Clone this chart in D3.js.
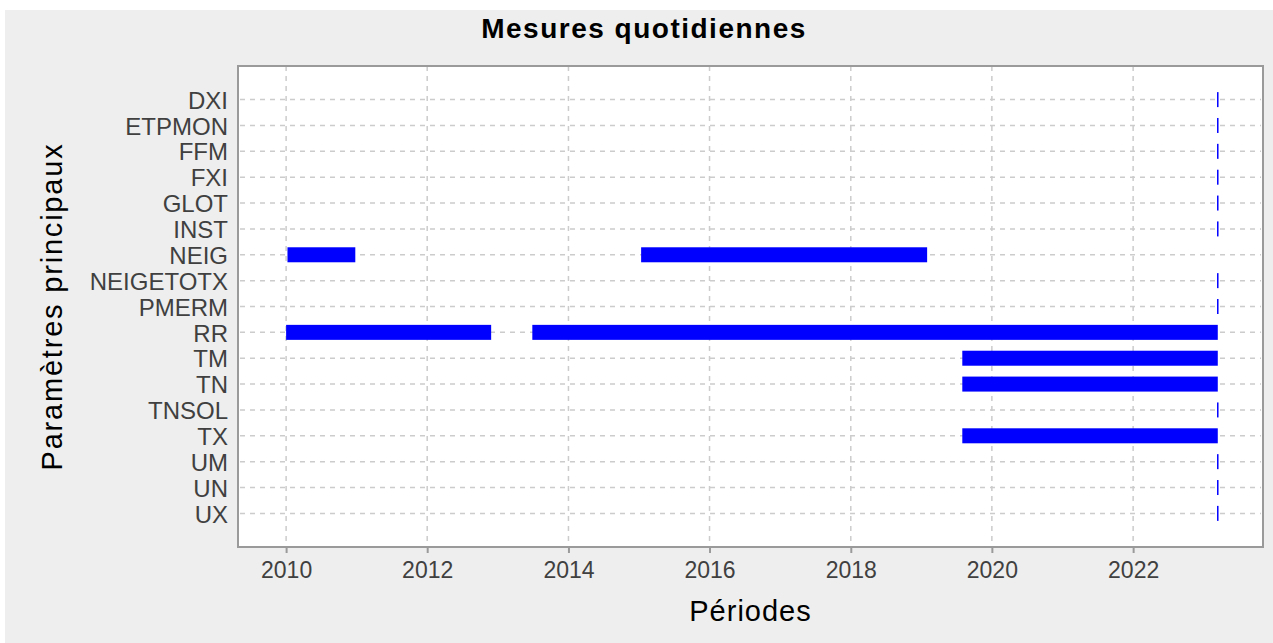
<!DOCTYPE html>
<meta charset="utf-8">
<head>
    <title>Mesures quotidiennes</title>
    <meta charset="utf-8" />
</head>
<style>
body {
    margin: 0;
    background: #fff;
}

text {
    font-family: 'Liberation Sans', Arial, sans-serif;
}

.grid line {
    stroke: #cccccc;
    stroke-width: 1.5;
    stroke-dasharray: 5,5;
}

.tick-label {
    fill: #404040;
}
</style>

<svg width="1273" height="643"></svg>
<script src="https://d3js.org/d3.v7.min.js"></script>
<script>

// parametres (de haut en bas)
const parametres = ['DXI', 'ETPMON', 'FFM', 'FXI', 'GLOT', 'INST', 'NEIG', 'NEIGETOTX',
    'PMERM', 'RR', 'TM', 'TN', 'TNSOL', 'TX', 'UM', 'UN', 'UX'];

// periodes de mesure : parametre, debut, fin
const periodeParam = ['DXI', 'ETPMON', 'FFM', 'FXI', 'GLOT', 'INST', 'NEIG', 'NEIG', 'NEIGETOTX',
    'PMERM', 'RR', 'RR', 'TM', 'TN', 'TNSOL', 'TX', 'UM', 'UN', 'UX'];
const periodeDebut = ['2023-03-15', '2023-03-15', '2023-03-15', '2023-03-15', '2023-03-15', '2023-03-15',
    '2010-01-08', '2015-01-12', '2023-03-15', '2023-03-15', '2010-01-01', '2013-06-28',
    '2019-08-01', '2019-08-01', '2023-03-15', '2019-08-01', '2023-03-15', '2023-03-15', '2023-03-15'];
const periodeFin = ['2023-03-15', '2023-03-15', '2023-03-15', '2023-03-15', '2023-03-15', '2023-03-15',
    '2010-12-25', '2019-01-31', '2023-03-15', '2023-03-15', '2012-11-27', '2023-03-15',
    '2023-03-15', '2023-03-15', '2023-03-15', '2023-03-15', '2023-03-15', '2023-03-15', '2023-03-15'];

const annees = [2010, 2012, 2014, 2016, 2018, 2020, 2022];

const svg = d3.select('svg'),
    width = +svg.attr('width'),
    height = +svg.attr('height');

const plot = {left: 238, right: 1263, top: 66, bottom: 547};
const parse = d3.timeParse('%Y-%m-%d');

const periodes = periodeParam.map((p, i) => ({
    param: p,
    debut: parse(periodeDebut[i]),
    fin: parse(periodeFin[i])
}));

const x = d3.scaleTime()
    .domain([parse('2009-04-27'), parse('2023-11-04')])
    .range([plot.left, plot.right]);

const y = d3.scalePoint()
    .domain(parametres)
    .range([plot.top, plot.bottom])
    .padding(1.3);

// fond
svg.append('rect')
    .attr('x', 5)
    .attr('y', 10)
    .attr('width', width - 5)
    .attr('height', height - 10)
    .attr('fill', '#eeeeee');

svg.append('rect')
    .attr('x', plot.left)
    .attr('y', plot.top)
    .attr('width', plot.right - plot.left)
    .attr('height', plot.bottom - plot.top)
    .attr('fill', '#fff');

const ticks = annees.map(a => new Date(a, 0, 1));

// grille
const grid = svg.append('g').attr('class', 'grid');

grid.selectAll('.vline')
    .data(ticks)
    .enter()
    .append('line')
    .attr('x1', d => x(d))
    .attr('x2', d => x(d))
    .attr('y1', plot.top)
    .attr('y2', plot.bottom);

grid.selectAll('.hline')
    .data(parametres)
    .enter()
    .append('line')
    .attr('x1', plot.left + 2)
    .attr('x2', plot.right - 2)
    .attr('y1', d => y(d))
    .attr('y2', d => y(d));

// barres
const barH = 15;

svg.append('g')
    .attr('class', 'bars')
    .selectAll('rect')
    .data(periodes)
    .enter()
    .append('rect')
    .attr('x', d => x(d.debut) - (d.fin - d.debut === 0 ? 0.75 : 0))
    .attr('y', d => y(d.param) - barH / 2)
    .attr('width', d => Math.max(x(d.fin) - x(d.debut), 1.5))
    .attr('height', barH)
    .attr('fill', '#0000ff');

// cadre
svg.append('rect')
    .attr('x', plot.left)
    .attr('y', plot.top)
    .attr('width', plot.right - plot.left)
    .attr('height', plot.bottom - plot.top)
    .attr('fill', 'none')
    .attr('stroke', '#9a9a9a')
    .attr('stroke-width', 2);

// axe x
const xAxis = svg.append('g')
    .attr('transform', `translate(0,${plot.bottom})`)
    .call(d3.axisBottom(x)
        .tickValues(ticks)
        .tickFormat(d3.timeFormat('%Y'))
        .tickSize(6)
        .tickPadding(9));

xAxis.select('.domain').remove();
xAxis.selectAll('.tick line')
    .attr('stroke', '#9a9a9a')
    .attr('stroke-width', 2);
xAxis.selectAll('.tick text')
    .attr('class', 'tick-label')
    .style('font-size', '23px')
    .style('font-family', "'Liberation Sans', Arial, sans-serif");

// axe y
const yAxis = svg.append('g')
    .attr('transform', `translate(${plot.left},0)`)
    .call(d3.axisLeft(y)
        .tickSize(0)
        .tickPadding(10));

yAxis.select('.domain').remove();
yAxis.selectAll('.tick text')
    .attr('class', 'tick-label')
    .attr('dy', '0.36em')
    .style('font-size', '24px')
    .style('font-family', "'Liberation Sans', Arial, sans-serif");

// titres
svg.append('text')
    .attr('x', 644)
    .attr('y', 38)
    .attr('text-anchor', 'middle')
    .style('font-size', '28px')
    .style('font-weight', 'bold')
    .style('letter-spacing', '1.5px')
    .text('Mesures quotidiennes');

svg.append('text')
    .attr('x', (plot.left + plot.right) / 2)
    .attr('y', 621)
    .attr('text-anchor', 'middle')
    .style('font-size', '29px')
    .style('letter-spacing', '1px')
    .text('Périodes');

svg.append('text')
    .attr('transform', `translate(62,${(plot.top + plot.bottom) / 2}) rotate(-90)`)
    .attr('text-anchor', 'middle')
    .style('font-size', '29px')
    .style('letter-spacing', '1.8px')
    .text('Paramètres principaux');

</script>
